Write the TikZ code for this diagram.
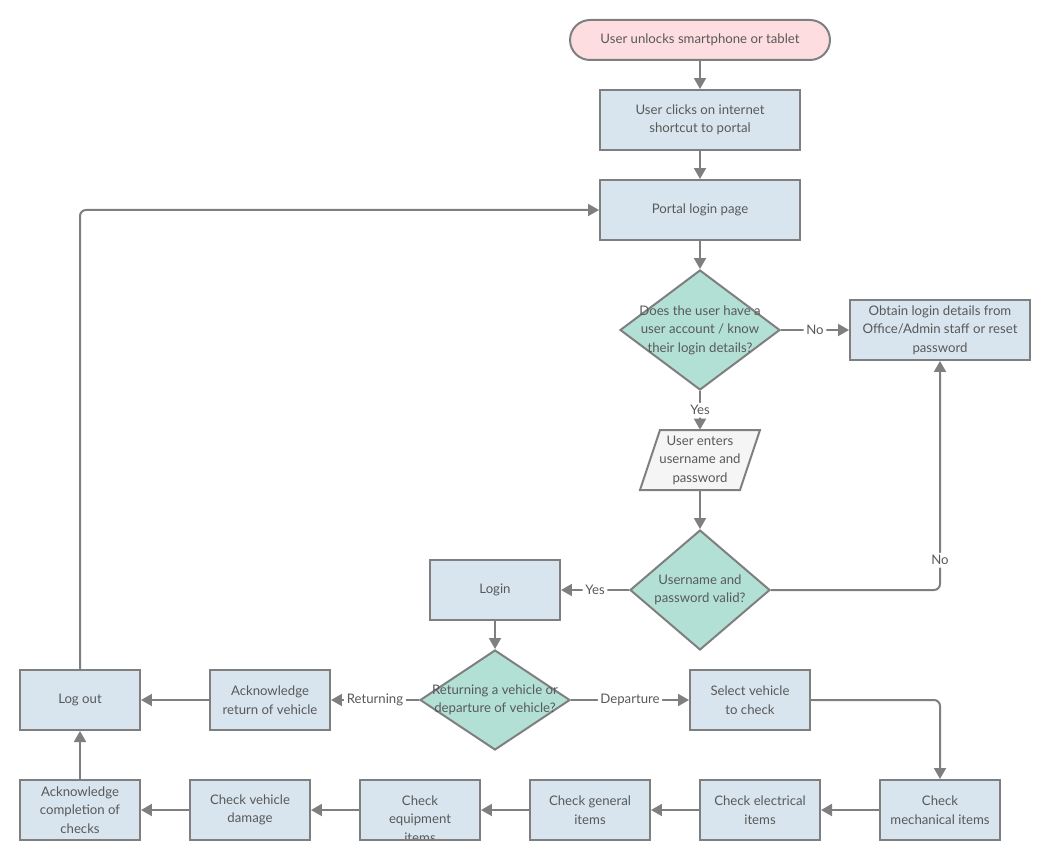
\documentclass[tikz,border=0pt]{standalone}
\usepackage{fontspec}
\setmainfont{Lato}
\usetikzlibrary{shapes.geometric,arrows.meta}
\definecolor{lc}{HTML}{7F7F7F}
\definecolor{boxfill}{HTML}{D8E5EE}
\definecolor{dfill}{HTML}{B2E0D5}
\definecolor{sfill}{HTML}{FDDDE0}
\definecolor{pfill}{HTML}{F5F5F5}
\definecolor{txt}{HTML}{595959}
\tikzset{
  base/.style={line width=0.04cm, draw=lc, text=txt, align=center, inner sep=0pt, font=\fontsize{7.5}{10.5}\selectfont},
  procbox/.style={base, rectangle, fill=boxfill, minimum height=1.2cm},
  decbox/.style={base, diamond, fill=dfill},
  label/.style={text=txt, fill=white, inner sep=1.5pt, font=\fontsize{7.5}{10.5}\selectfont},
  tlabel/.style={text=txt, align=center, font=\fontsize{7.5}{10.5}\selectfont},
  conn/.style={draw=lc, line width=0.04cm, -{Triangle[length=0.22cm,width=0.24cm]}, rounded corners=0.12cm},
}
\begin{document}
\begin{tikzpicture}[x=0.02cm,y=-0.02cm]
\useasboundingbox (0,0) rectangle (1050,861);
% nodes
\node[base, fill=sfill, rounded corners=0.4cm, minimum width=5.2cm, minimum height=0.8cm] (start) at (700,40) {User unlocks smartphone or tablet};
\node[procbox, minimum width=4cm] (click) at (700,120) {User clicks on internet\\shortcut to portal};
\node[procbox, minimum width=4cm] (portal) at (700,210) {Portal login page};
\node[decbox, minimum width=3.2cm, minimum height=2.4cm] (d1) at (700,330) {};
\node[tlabel] at (d1) {Does the user have a\\user account / know\\their login details?};
\node[procbox, minimum width=3.6cm] (obtain) at (940,330) {Obtain login details from\\Office/Admin staff or reset\\password};
\node[minimum width=2.4cm, minimum height=1.2cm, inner sep=0pt] (par) at (700,460) {};
\draw[line width=0.04cm, draw=lc, fill=pfill] (660,430) -- (760,430) -- (740,490) -- (640,490) -- cycle;
\node[tlabel] at (par) {User enters\\username and\\password};
\node[decbox, minimum width=2.8cm, minimum height=2.4cm] (d2) at (700,590) {};
\node[tlabel] at (d2) {Username and\\password valid?};
\node[procbox, minimum width=2.6cm] (login) at (495,590) {Login};
\node[decbox, minimum width=3cm, minimum height=2cm] (d3) at (495,700) {};
\node[tlabel] at (d3) {Returning a vehicle or\\departure of vehicle?};
\node[procbox, minimum width=2.4cm] (select) at (750,700) {Select vehicle\\to check};
\node[procbox, minimum width=2.4cm] (ackret) at (270,700) {Acknowledge\\return of vehicle};
\node[procbox, minimum width=2.4cm] (logout) at (80,700) {Log out};
\node[procbox, minimum width=2.4cm] (ackcomp) at (80,810) {Acknowledge\\completion of\\checks};
\node[procbox, minimum width=2.4cm] (damage) at (250,810) {Check vehicle\\damage};
\node[procbox, minimum width=2.4cm] (equip) at (420,810) {};
\begin{scope}
\clip (360,780) rectangle (480,840);
\node[tlabel] at (420,819) {Check\\equipment\\items};
\end{scope}
\draw[line width=0.04cm, draw=lc] (360,780) rectangle (480,840);
\node[procbox, minimum width=2.4cm] (general) at (590,810) {Check general\\items};
\node[procbox, minimum width=2.4cm] (elec) at (760,810) {Check electrical\\items};
\node[procbox, minimum width=2.4cm] (mech) at (940,810) {Check\\mechanical items};
% connectors
\draw[conn] (start) -- (click);
\draw[conn] (click) -- (portal);
\draw[conn] (portal) -- (d1);
\draw[conn] (d1) -- node[label] {No} (obtain);
\draw[conn] (d1) -- node[label, pos=0.5] {Yes} (par);
\draw[conn] (par) -- (d2);
\draw[conn] (d2.east) -| node[label, pos=0.565] {No} (obtain.south);
\draw[conn] (d2) -- node[label] {Yes} (login);
\draw[conn] (login) -- (d3);
\draw[conn] (d3) -- node[label] {Departure} (select);
\draw[conn] (d3) -- node[label] {Returning} (ackret);
\draw[conn] (ackret) -- (logout);
\draw[conn] (select.east) -| (mech.north);
\draw[conn] (mech) -- (elec);
\draw[conn] (elec) -- (general);
\draw[conn] (general) -- (equip);
\draw[conn] (equip) -- (damage);
\draw[conn] (damage) -- (ackcomp);
\draw[conn] (ackcomp) -- (logout);
\draw[conn] (logout.north) |- (portal.west);
\end{tikzpicture}
\end{document}
